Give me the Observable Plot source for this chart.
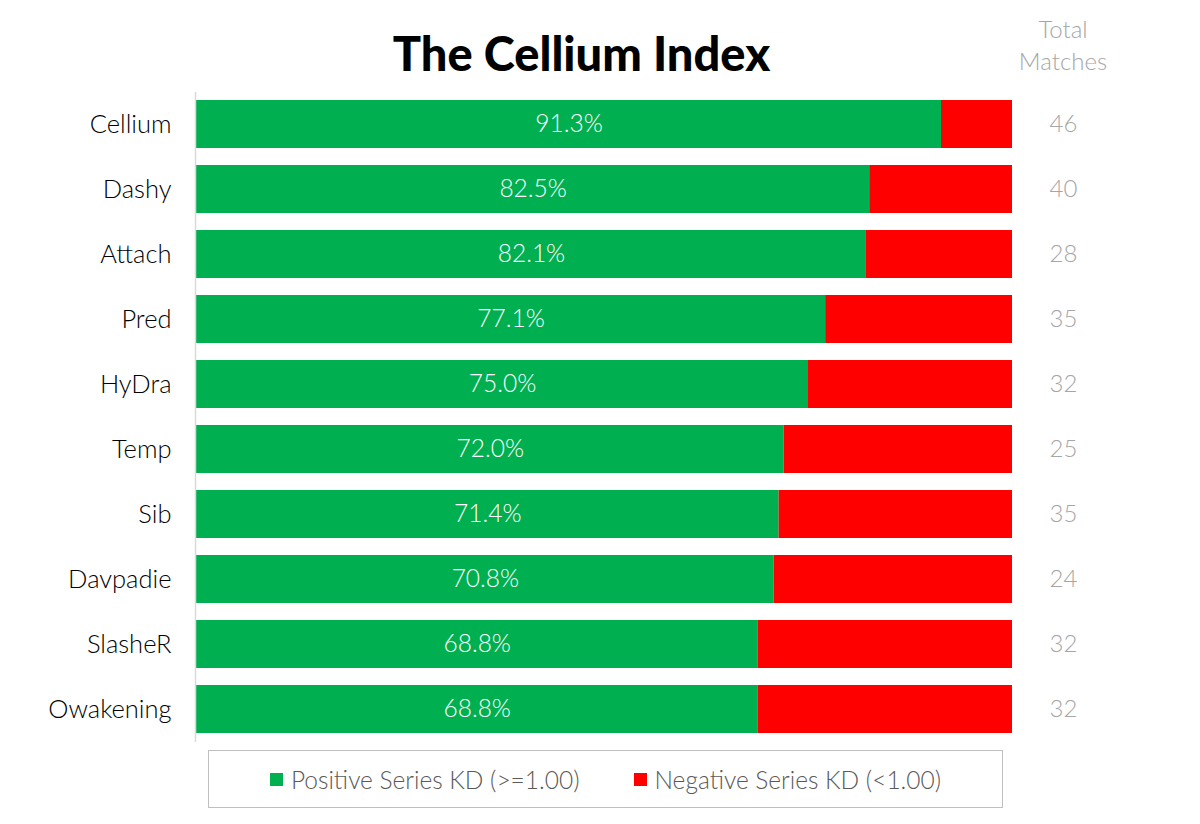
<!DOCTYPE html>
<html>
<head>
<meta charset="utf-8">
<script src="https://cdn.jsdelivr.net/npm/d3@7"></script>
<script src="https://cdn.jsdelivr.net/npm/@observablehq/plot@0.6"></script>
<style>
  html, body { margin: 0; padding: 0; background: #fff; }
  #wrap { position: relative; width: 1200px; height: 824px; font-family: Lato, "DejaVu Sans", sans-serif; overflow: hidden; }
  #title { position: absolute; left: 0; width: 1163px; top: 25px; text-align: center; font-size: 47px; font-weight: 900; color: #000; }
  #tm { position: absolute; left: 1003px; width: 120px; top: 13px; text-align: center; font-size: 24px; line-height: 32px; color: #a6a6a6; font-weight: 300; }
  #legend { position: absolute; left: 208px; top: 750px; width: 795px; height: 58px; border: 1px solid #bfbfbf; box-sizing: border-box; display: flex; align-items: center; justify-content: center; gap: 54px; font-size: 24.5px; color: #595959; font-weight: 300; }
  .item { display: flex; align-items: center; gap: 8px; }
  .sw { width: 13px; height: 13px; display: inline-block; }
</style>
</head>
<body>
<div id="wrap">
  <div id="chart"></div>
  <div id="title">The Cellium Index</div>
  <div id="tm">Total<br>Matches</div>
  <div id="legend"></div>
</div>
<script>
const players = ["Cellium","Dashy","Attach","Pred","HyDra","Temp","Sib","Davpadie","SlasheR","Owakening"];
const positive = [91.3, 82.5, 82.1, 77.1, 75.0, 72.0, 71.4, 70.8, 68.8, 68.8];
const negative = [8.7, 17.5, 17.9, 22.9, 25.0, 28.0, 28.6, 29.2, 31.2, 31.2];
const matches = [46, 40, 28, 35, 32, 25, 35, 24, 32, 32];
const seriesNames = ["Positive Series KD (>=1.00)", "Negative Series KD (<1.00)"];
const seriesColors = ["#00b050", "#ff0000"];

const rows = [];
players.forEach((p, i) => {
  rows.push({player: p, series: seriesNames[0], value: positive[i]});
  rows.push({player: p, series: seriesNames[1], value: negative[i]});
});
const labels = players.map((p, i) => ({player: p, pos: positive[i], total: positive[i] + negative[i], matches: matches[i]}));

const chart = Plot.plot({
  width: 1200,
  height: 824,
  marginTop: 92,
  marginBottom: 82,
  marginLeft: 196,
  marginRight: 188,
  style: {fontFamily: "Lato, 'DejaVu Sans', sans-serif", background: "#fff"},
  x: {domain: [0, 100], axis: null},
  y: {domain: players, paddingInner: 0.26, paddingOuter: 0.13, axis: null},
  color: {domain: seriesNames, range: seriesColors},
  marks: [
    Plot.barX(rows, {x: "value", y: "player", fill: "series", order: seriesNames}),
    Plot.ruleX([0], {stroke: "#d9d9d9", strokeWidth: 1.5, dx: -1}),
    Plot.axisY({tickSize: 0, tickPadding: 25, fontSize: 25.5, fontWeight: 300, fill: "#000", label: null}),
    Plot.text(labels, {x: d => d.pos / 2, y: "player", text: d => d.pos.toFixed(1) + "%", fill: "#fff", fontSize: 24.5, fontWeight: 300}),
    Plot.text(labels, {x: "total", y: "player", text: d => String(d.matches), dx: 51, fill: "#a6a6a6", fontSize: 24, fontWeight: 300})
  ]
});
document.getElementById("chart").appendChild(chart);

const leg = document.getElementById("legend");
seriesNames.forEach((n, i) => {
  const it = document.createElement("div");
  it.className = "item";
  const sw = document.createElement("span");
  sw.className = "sw";
  sw.style.background = seriesColors[i];
  const t = document.createElement("span");
  t.textContent = n;
  it.appendChild(sw); it.appendChild(t);
  leg.appendChild(it);
});
</script>
</body>
</html>
